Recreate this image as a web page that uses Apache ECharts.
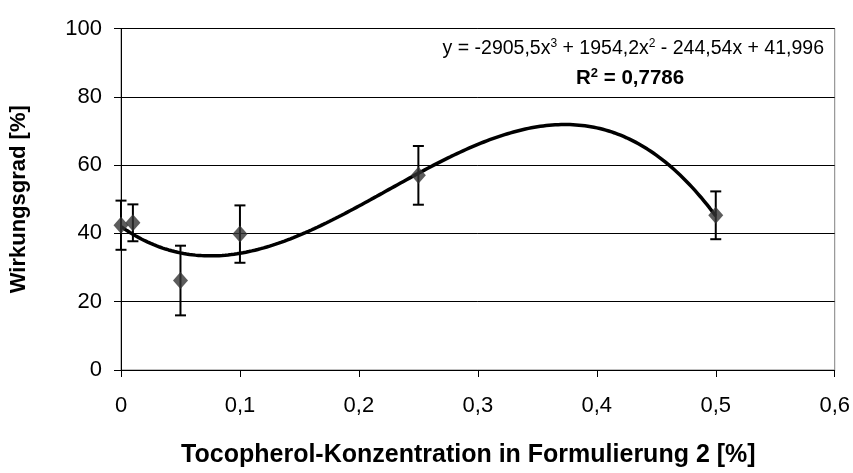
<!DOCTYPE html>
<html>
<head>
<meta charset="utf-8">
<script src="https://cdn.jsdelivr.net/npm/echarts@6/dist/echarts.min.js"></script>
<style>
  html, body { margin: 0; padding: 0; background: #fff; }
  #chart { width: 853px; height: 473px; }
</style>
</head>
<body>
<div id="chart"></div>
<script>
// Tocopherol concentration (%) and measured efficiency (%) with standard deviation
const concentrations = [0, 0.01, 0.05, 0.1, 0.25, 0.5];
const efficiency = [42.4, 43.1, 26.2, 39.8, 57.0, 45.3];
const deviation = [7.2, 5.4, 10.2, 8.4, 8.6, 7.0];

// Third-order polynomial trendline: c3*x^3 + c2*x^2 + c1*x + c0
const trendCoefficients = [-2905.5, 1954.2, -244.54, 41.996];
const trendRange = [0, 0.5];

const xTicks = ['0', '0,1', '0,2', '0,3', '0,4', '0,5', '0,6'];

const font = '"Liberation Sans", Arial, sans-serif';

const points = concentrations.map((x, i) => [x, efficiency[i]]);
const errorData = concentrations.map((x, i) => [x, efficiency[i] - deviation[i], efficiency[i] + deviation[i]]);

const trend = [];
const steps = 200;
for (let i = 0; i <= steps; i++) {
  const x = trendRange[0] + (trendRange[1] - trendRange[0]) * i / steps;
  const [c3, c2, c1, c0] = trendCoefficients;
  trend.push([x, c3 * x * x * x + c2 * x * x + c1 * x + c0]);
}

const chart = echarts.init(document.getElementById('chart'), null, { renderer: 'canvas' });

chart.setOption({
  animation: false,
  backgroundColor: '#ffffff',
  grid: {
    left: 121, right: 18, top: 28.5, bottom: 101.5,
    show: true, borderColor: '#808080', borderWidth: 1, backgroundColor: 'transparent'
  },
  xAxis: {
    type: 'value', min: 0, max: 0.6, interval: 0.1,
    name: 'Tocopherol-Konzentration in Formulierung 2 [%]',
    nameLocation: 'middle', nameGap: 73,
    nameTextStyle: {
      fontFamily: font, fontSize: 25, fontWeight: 'bold', color: '#000',
      padding: [0, 19, 0, 0]
    },
    axisLine: { lineStyle: { color: '#000', width: 1 } },
    axisTick: { show: true, inside: false, length: 7, lineStyle: { color: '#000' } },
    axisLabel: {
      margin: 25, fontFamily: font, fontSize: 22, color: '#000',
      formatter: (v) => xTicks[Math.round(v * 10)]
    },
    splitLine: { show: false }
  },
  yAxis: {
    type: 'value', min: 0, max: 100, interval: 20,
    name: 'Wirkungsgrad [%]',
    nameLocation: 'middle', nameGap: 91, nameRotate: 90,
    nameTextStyle: { fontFamily: font, fontSize: 22, fontWeight: 'bold', color: '#000' },
    axisLine: { show: true, lineStyle: { color: '#000', width: 1 } },
    axisTick: { show: true, inside: false, length: 7, lineStyle: { color: '#000' } },
    axisLabel: { margin: 19, fontFamily: font, fontSize: 22, color: '#000' },
    splitLine: { show: true, lineStyle: { color: '#000', width: 1 } }
  },
  series: [
    {
      type: 'line',
      data: trend,
      showSymbol: false,
      symbol: 'none',
      smooth: false,
      lineStyle: { color: '#000', width: 3.5 },
      z: 3
    },
    {
      type: 'custom',
      data: errorData,
      renderItem: (params, api) => {
        const x = api.value(0);
        const lo = api.coord([x, api.value(1)]);
        const hi = api.coord([x, api.value(2)]);
        const half = 5.5;
        const style = { stroke: '#000', lineWidth: 2, fill: null };
        return {
          type: 'group',
          children: [
            { type: 'line', shape: { x1: lo[0], y1: lo[1], x2: hi[0], y2: hi[1] }, style },
            { type: 'line', shape: { x1: hi[0] - half, y1: hi[1], x2: hi[0] + half, y2: hi[1] }, style },
            { type: 'line', shape: { x1: lo[0] - half, y1: lo[1], x2: lo[0] + half, y2: lo[1] }, style }
          ]
        };
      },
      z: 4
    },
    {
      type: 'scatter',
      data: points,
      symbol: 'diamond',
      symbolSize: [15, 17],
      itemStyle: { color: '#333333' },
      z: 5
    }
  ],
  graphic: [
    {
      type: 'text', right: 29, top: 38,
      style: {
        rich: {
          t: { fontFamily: font, fontSize: 19.5, fill: '#000' },
          s: { fontFamily: font, fontSize: 12, fill: '#000', padding: [0, 0, 10, 0] }
        },
        text: '{t|y = -2905,5x}{s|3}{t| + 1954,2x}{s|2}{t| - 244,54x + 41,996}'
      }
    },
    {
      type: 'text', left: 576, top: 67,
      style: {
        rich: {
          b: { fontFamily: font, fontSize: 20.5, fontWeight: 'bold', fill: '#000' },
          s: { fontFamily: font, fontSize: 13, fontWeight: 'bold', fill: '#000', padding: [0, 0, 10, 0] }
        },
        text: '{b|R}{s|2}{b| = 0,7786}'
      }
    }
  ]
});
</script>
</body>
</html>
